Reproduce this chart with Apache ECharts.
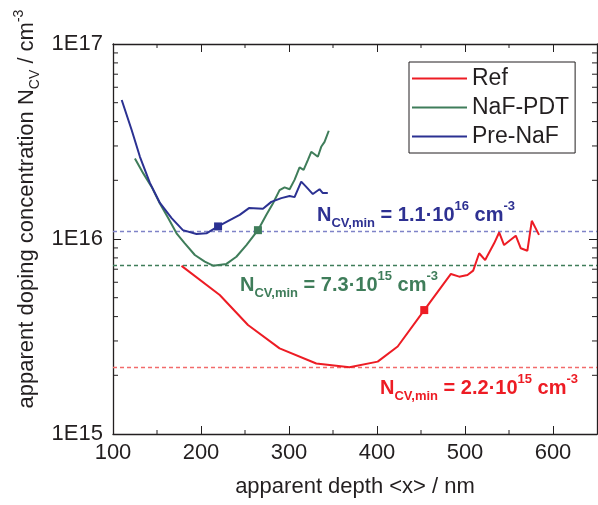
<!DOCTYPE html>
<html>
<head>
<meta charset="utf-8">
<script src="https://cdn.jsdelivr.net/npm/echarts@6.0.0/dist/echarts.min.js"></script>
<style>
  html, body { margin: 0; padding: 0; background: #ffffff; }
  #chart { width: 598px; height: 505px; }
</style>
</head>
<body>
<div id="chart"></div>
<script>
// Apparent doping concentration profiles N_CV vs. apparent depth <x>
const seriesNames = ['Ref', 'NaF-PDT', 'Pre-NaF'];

const depthRef = [177.9, 221.3, 253.4, 289.3, 331, 368.7, 400.8, 423.5, 453.7, 484, 493.4, 502.8,
  509.3, 516.1, 522.9, 533.1, 538.8, 544.4, 557.7, 563.4, 570.9, 575.9, 584.1];
const ncvRef = [7.28e15, 5.16e15, 3.62e15, 2.75e15, 2.30e15, 2.20e15, 2.35e15, 2.81e15, 4.32e15, 6.62e15,
  6.41e15, 6.54e15, 6.88e15, 8.45e15, 7.80e15, 9.5e15, 1.08e16, 9.31e15, 1.04e16, 8.96e15, 8.71e15,
  1.24e16, 1.05e16];

const depthNaF = [124.9, 134.4, 143.9, 153.3, 162.7, 172.2, 181.6, 193, 204.3, 213.7, 228.9, 240.2,
  251.6, 264.7, 274.3, 281.7, 289.3, 295, 300.7, 306.3, 312, 316.6, 321.4, 325.3, 332.8, 336.6,
  340.4, 345.2];
const ncvNaF = [2.59e16, 2.17e16, 1.85e16, 1.52e16, 1.28e16, 1.07e16, 9.5e15, 8.28e15, 7.65e15, 7.3e15,
  7.45e15, 8.11e15, 9.31e15, 1.11e16, 1.33e16, 1.52e16, 1.78e16, 1.84e16, 1.80e16, 2.01e16, 2.33e16,
  2.26e16, 2.54e16, 2.80e16, 2.64e16, 2.97e16, 3.15e16, 3.59e16];

const depthPre = [109.9, 121.2, 130.6, 141.9, 153.3, 166.6, 179.4, 194.9, 206.2, 219.4, 232.7, 244,
  254.5, 270.4, 279.9, 291.3, 300.7, 306.3, 313.9, 319.6, 327.1, 334.7, 338.4, 344.1];
const ncvPre = [5.16e16, 3.62e16, 2.64e16, 1.94e16, 1.53e16, 1.28e16, 1.11e16, 1.06e16, 1.07e16, 1.16e16,
  1.25e16, 1.33e16, 1.44e16, 1.43e16, 1.55e16, 1.62e16, 1.66e16, 1.64e16, 1.97e16, 1.85e16, 1.70e16,
  1.80e16, 1.72e16, 1.72e16];

// depth of the highlighted (square) point on each profile
const markerDepth = [453.7, 264.7, 219.4];
// minimum doping concentration of each profile
const ncvMin = [2.2e15, 7.3e15, 1.1e16];

// axis ranges and ticks
const depthMin = 100, depthMax = 650, depthStep = 100;
const ncvAxisMin = 1e15, ncvAxisMax = 1e17;
const depthMinorTicks = [150, 250, 350, 450, 550];
const ncvMinorTicks = [2e15, 3e15, 4e15, 5e15, 6e15, 7e15, 8e15, 9e15,
  2e16, 3e16, 4e16, 5e16, 6e16, 7e16, 8e16, 9e16];

const lineColors = ['#ed1c24', '#3f7d5a', '#2b3192'];
const dashColors = ['#f26b6b', '#3f7d5a', '#7f83c8'];
const textColors = ['#ed1c24', '#3f7d5a', '#2e3192'];
const INK = '#231f20';
const FONT = '"Liberation Sans", Arial, Helvetica, sans-serif';

const depths = [depthRef, depthNaF, depthPre];
const ncvs = [ncvRef, ncvNaF, ncvPre];

function pairs(xs, ys) { return xs.map((x, i) => [x, ys[i]]); }

const lineSeries = seriesNames.map((name, k) => {
  const data = pairs(depths[k], ncvs[k]);
  const mi = depths[k].indexOf(markerDepth[k]);
  return {
    name: name,
    type: 'line',
    xAxisIndex: 0,
    yAxisIndex: 0,
    data: data,
    symbol: 'none',
    smooth: false,
    lineStyle: { color: lineColors[k], width: 2 },
    itemStyle: { color: lineColors[k] },
    emphasis: { disabled: true },
    z: 5,
    markPoint: {
      silent: true,
      animation: false,
      data: [{ coord: data[mi], symbol: 'rect', symbolSize: 8, itemStyle: { color: lineColors[k] }, label: { show: false } }]
    },
    markLine: {
      silent: true,
      animation: false,
      symbol: 'none',
      label: { show: false },
      lineStyle: { color: dashColors[k], type: [4, 3], width: 1.3 },
      data: [{ yAxis: ncvMin[k] }]
    }
  };
});

// minor ticks on all four sides of the frame
const tickData = ncvMinorTicks.map(v => [depthMin, v, 0])
  .concat(depthMinorTicks.map(v => [v, ncvAxisMin, 1]));

const tickSeries = {
  type: 'custom',
  xAxisIndex: 0,
  yAxisIndex: 0,
  silent: true,
  clip: false,
  z: 3,
  encode: { x: 0, y: 1 },
  data: tickData,
  renderItem(params, api) {
    const cs = params.coordSys;
    const p = api.coord([api.value(0), api.value(1)]);
    const st = { stroke: INK, lineWidth: 1 };
    if (api.value(2) === 0) {
      return {
        type: 'group', children: [
          { type: 'line', shape: { x1: cs.x, y1: p[1], x2: cs.x + 5, y2: p[1] }, style: st },
          { type: 'line', shape: { x1: cs.x + cs.width - 5, y1: p[1], x2: cs.x + cs.width, y2: p[1] }, style: st }
        ]
      };
    }
    return {
      type: 'group', children: [
        { type: 'line', shape: { x1: p[0], y1: cs.y + cs.height, x2: p[0], y2: cs.y + cs.height - 4 }, style: st },
        { type: 'line', shape: { x1: p[0], y1: cs.y, x2: p[0], y2: cs.y + 4 }, style: st }
      ]
    };
  }
};

function minLabel(v) {
  const e = Math.floor(Math.log10(v) + 1e-9);
  const m = (v / Math.pow(10, e)).toFixed(1);
  return '{m|N}{sub|CV,min}{m| = ' + m + '\u00b710}{sup|' + e + '}{m| cm}{sup|-3}';
}

const annoRich = {
  m: { fontSize: 20, fontWeight: 'bold', fontFamily: FONT, lineHeight: 30, verticalAlign: 'middle' },
  sub: { fontSize: 13, fontWeight: 'bold', fontFamily: FONT, lineHeight: 13, verticalAlign: 'bottom' },
  sup: { fontSize: 13, fontWeight: 'bold', fontFamily: FONT, lineHeight: 13, verticalAlign: 'top' }
};
const annoPos = [[380, 388], [240, 285], [317, 215]];

const graphics = seriesNames.map((n, k) => ({
  type: 'text',
  x: annoPos[k][0],
  y: annoPos[k][1],
  silent: true,
  z: 10,
  style: {
    text: minLabel(ncvMin[k]),
    rich: annoRich,
    fill: textColors[k],
    align: 'left',
    verticalAlign: 'middle'
  }
}));

graphics.push({
  type: 'text',
  x: 27,
  y: 209,
  rotation: Math.PI / 2,
  silent: true,
  style: {
    text: '{m|apparent doping concentration N}{sub|CV}{m| / cm}{sup|-3}',
    rich: {
      m: { fontSize: 22, fontFamily: FONT, lineHeight: 30, verticalAlign: 'middle' },
      sub: { fontSize: 14, fontFamily: FONT, lineHeight: 14, verticalAlign: 'bottom' },
      sup: { fontSize: 14, fontFamily: FONT, lineHeight: 14, verticalAlign: 'top' }
    },
    fill: INK,
    align: 'center',
    verticalAlign: 'middle'
  }
});

const axisLineStyle = { color: INK, width: 1.3 };

const option = {
  animation: false,
  backgroundColor: '#ffffff',
  grid: { left: 113, top: 44, right: 1, bottom: 71, containLabel: false },
  legend: {
    data: seriesNames,
    orient: 'vertical',
    left: 409,
    top: 62,
    padding: [5, 6, 5, 3],
    itemWidth: 55,
    itemHeight: 2,
    itemGap: 6,
    icon: 'rect',
    borderColor: INK,
    borderWidth: 1,
    selectedMode: false,
    textStyle: { fontSize: 23, color: INK, fontFamily: FONT }
  },
  xAxis: [
    {
      type: 'value', position: 'bottom',
      min: depthMin, max: depthMax, interval: depthStep,
      name: 'apparent depth <x> / nm',
      nameLocation: 'middle', nameGap: 42,
      nameTextStyle: { fontSize: 22, color: INK, fontFamily: FONT },
      axisLine: { show: true, onZero: false, lineStyle: axisLineStyle },
      axisTick: { show: true, inside: true, length: 8, lineStyle: { color: INK, width: 1 } },
      axisLabel: { fontSize: 22, color: INK, fontFamily: FONT, margin: 8, showMaxLabel: false },
      splitLine: { show: false }
    },
    {
      type: 'value', position: 'top',
      min: depthMin, max: depthMax, interval: depthStep,
      axisLine: { show: true, onZero: false, lineStyle: axisLineStyle },
      axisTick: { show: true, inside: true, length: 8, lineStyle: { color: INK, width: 1 } },
      axisLabel: { show: false },
      splitLine: { show: false }
    }
  ],
  yAxis: [
    {
      type: 'log', logBase: 10, position: 'left',
      min: ncvAxisMin, max: ncvAxisMax,
      axisLine: { show: true, lineStyle: axisLineStyle },
      axisTick: { show: true, inside: true, length: 8, lineStyle: { color: INK, width: 1 } },
      axisLabel: {
        fontSize: 22, color: INK, fontFamily: FONT, margin: 10,
        formatter: v => '1E' + Math.round(Math.log10(v))
      },
      splitLine: { show: false }
    },
    {
      type: 'log', logBase: 10, position: 'right',
      min: ncvAxisMin, max: ncvAxisMax,
      axisLine: { show: true, lineStyle: axisLineStyle },
      axisTick: { show: true, inside: true, length: 8, lineStyle: { color: INK, width: 1 } },
      axisLabel: { show: false },
      splitLine: { show: false }
    }
  ],
  graphic: graphics,
  series: lineSeries.concat([tickSeries])
};

const chart = echarts.init(document.getElementById('chart'), null, { renderer: 'canvas' });
chart.setOption(option);
</script>
</body>
</html>
